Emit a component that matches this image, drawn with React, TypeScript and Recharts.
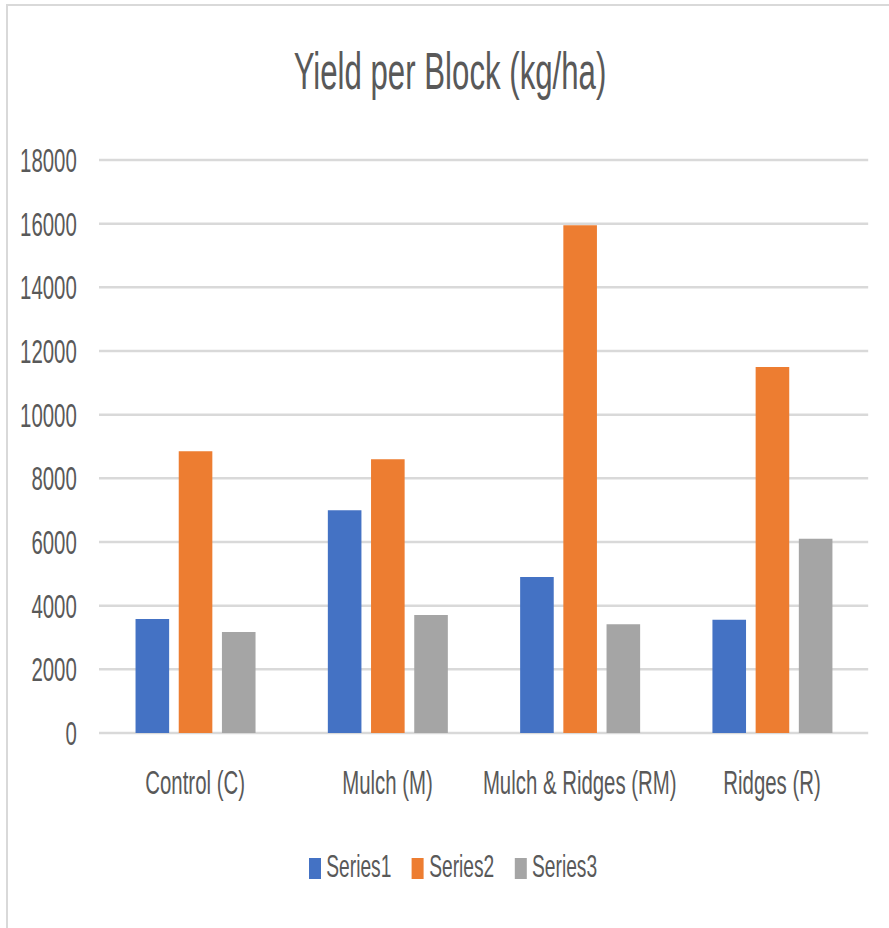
import { BarChart, Bar, XAxis, YAxis, CartesianGrid } from "recharts";

const categories = ["Control (C)", "Mulch (M)", "Mulch & Ridges (RM)", "Ridges (R)"];
const series1 = [3580, 7000, 4900, 3560];
const series2 = [8850, 8600, 15950, 11500];
const series3 = [3170, 3710, 3420, 6100];
const seriesNames = ["Series1", "Series2", "Series3"];
const yTicks = [0, 2000, 4000, 6000, 8000, 10000, 12000, 14000, 16000, 18000];

const COLORS = ["#4472c4", "#ed7d31", "#a5a5a5"];
const FONT = "'Liberation Sans', Arial, sans-serif";
const TEXT = "#595959";

// the original picture is squeezed sideways, so draw wide and compress
const SQUEEZE = 0.6;
const W = 1482;
const H = 928;

const data = categories.map((name, i) => ({
  name,
  Series1: series1[i],
  Series2: series2[i],
  Series3: series3[i],
}));

export default function App() {
  return (
    <div
      style={{
        position: "absolute",
        left: 0,
        top: 0,
        width: 889,
        height: 928,
        overflow: "hidden",
        background: "#fff",
      }}
    >
      <div
        style={{
          position: "absolute",
          left: 6,
          top: 4,
          width: 920,
          height: 960,
          border: "2px solid #d9d9d9",
        }}
      />
      <div
        style={{
          position: "absolute",
          left: 0,
          top: 0,
          width: W,
          height: H,
          transform: `scaleX(${SQUEEZE})`,
          transformOrigin: "0 0",
          fontFamily: FONT,
        }}
      >
        <div
          style={{
            position: "absolute",
            left: 0,
            top: 45,
            width: 1500,
            textAlign: "center",
            fontSize: 52,
            lineHeight: "52px",
            color: TEXT,
          }}
        >
          Yield per Block (kg/ha)
        </div>

        <BarChart
          width={W}
          height={H}
          data={data}
          margin={{ top: 160, right: 35, left: 0, bottom: 165 }}
          barCategoryGap="19%"
          barGap={16}
        >
          <CartesianGrid vertical={false} stroke="#d9d9d9" strokeWidth={2.5} />
          <XAxis
            dataKey="name"
            height={30}
            axisLine={false}
            tickLine={false}
            tickSize={0}
            tickMargin={37}
            interval={0}
            tick={{ fill: TEXT, fontSize: 34, fontFamily: FONT }}
          />
          <YAxis
            width={165}
            domain={[0, 18000]}
            ticks={yTicks}
            axisLine={false}
            tickLine={false}
            tickSize={0}
            tickMargin={37}
            tick={{ fill: TEXT, fontSize: 34, fontFamily: FONT }}
          />
          {seriesNames.map((s, i) => (
            <Bar key={s} dataKey={s} fill={COLORS[i]} isAnimationActive={false} />
          ))}
        </BarChart>

        <div
          style={{
            position: "absolute",
            left: 0,
            top: 850,
            width: 1510,
            display: "flex",
            justifyContent: "center",
            alignItems: "flex-start",
            fontSize: 32,
            lineHeight: "32px",
            color: TEXT,
          }}
        >
          {seriesNames.map((s, i) => (
            <div
              key={s}
              style={{ display: "flex", alignItems: "flex-start", marginRight: i < 2 ? 34 : 0 }}
            >
              <div
                style={{
                  width: 20,
                  height: 21,
                  marginTop: 8,
                  marginRight: 9,
                  background: COLORS[i],
                }}
              />
              <span>{s}</span>
            </div>
          ))}
        </div>
      </div>
    </div>
  );
}
